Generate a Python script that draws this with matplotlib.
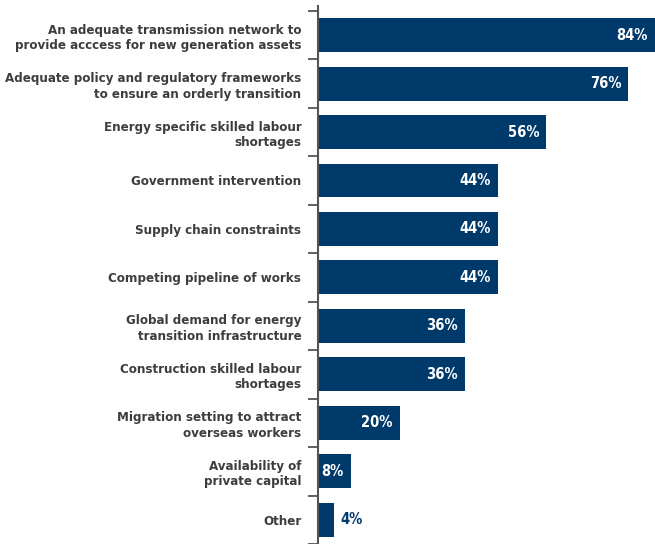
import matplotlib.pyplot as plt
import numpy as np

# Данные опроса: основные барьеры энергоперехода
categories = [
    "An adequate transmission network to\nprovide acccess for new generation assets",
    "Adequate policy and regulatory frameworks\nto ensure an orderly transition",
    "Energy specific skilled labour\nshortages",
    "Government intervention",
    "Supply chain constraints",
    "Competing pipeline of works",
    "Global demand for energy\ntransition infrastructure",
    "Construction skilled labour\nshortages",
    "Migration setting to attract\noverseas workers",
    "Availability of\nprivate capital",
    "Other",
]
values = [84, 76, 56, 44, 44, 44, 36, 36, 20, 8, 4]

BAR = "#003a6b"
TEXT = "#3d3d3d"
XMAX = 82.6

plt.rcParams["font.family"] = ["DejaVu Sans"]
plt.rcParams["font.stretch"] = "condensed"

fig = plt.figure(figsize=(6.55, 5.44), dpi=100)
ax = fig.add_axes([318 / 655, 0.0, 337 / 655, 1 - 6 / 544])

y = np.arange(len(categories))
ax.barh(y, values, height=0.7, color=BAR)

# подписи значений: внутри столбца, для коротких — справа от него
for yi, v in zip(y, values):
    if v >= 8:
        ax.text(min(v, XMAX) - 1.7, yi, f"{v}%", ha="right", va="center",
                color="white", fontsize=10.5, fontweight="bold",
                fontstretch="condensed")
    else:
        ax.text(v + 1.5, yi, f"{v}%", ha="left", va="center",
                color=BAR, fontsize=10.5, fontweight="bold",
                fontstretch="condensed")

ax.set_xlim(0, XMAX)
ax.set_ylim(10.5, -0.6)

ax.set_yticks(y)
ax.set_yticklabels(categories, fontsize=9.5, fontweight="bold", color=TEXT,
                   fontstretch="condensed", linespacing=1.25)
ax.tick_params(axis="y", which="major", length=0, pad=12)
ax.set_yticks(np.arange(-0.5, len(categories), 1), minor=True)
ax.tick_params(axis="y", which="minor", length=7, width=1.3, color="#555555",
               direction="out")
ax.set_xticks([])

for s in ["top", "right", "bottom"]:
    ax.spines[s].set_visible(False)
ax.spines["left"].set_color("#555555")
ax.spines["left"].set_linewidth(1.5)

fig.savefig("out.png", dpi=100)
